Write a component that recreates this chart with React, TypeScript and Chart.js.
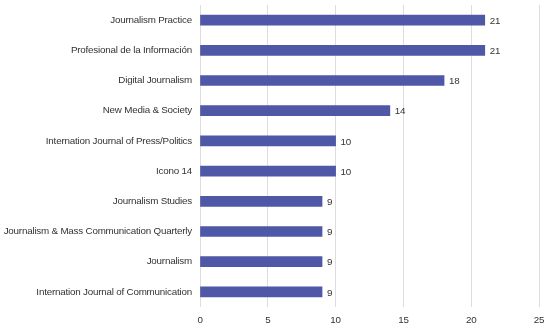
import React, { useEffect, useRef } from "react";
import { Chart, registerables } from "chart.js";

Chart.register(...registerables);

const categories = [
  "Journalism Practice",
  "Profesional de la Información",
  "Digital Journalism",
  "New Media & Society",
  "Internation Journal of Press/Politics",
  "Icono 14",
  "Journalism Studies",
  "Journalism & Mass Communication Quarterly",
  "Journalism",
  "Internation Journal of Communication",
];
const counts = [21, 21, 18, 14, 10, 10, 9, 9, 9, 9];
const xTicks = [0, 5, 10, 15, 20, 25];

const FONT = "'Liberation Sans', Arial, sans-serif";
const SIZE = 9.8;
const TEXT = "#333333";
const SPACING = "-0.2px";

const tightText = {
  id: "tightText",
  beforeLayout(chart: any) {
    chart.ctx.letterSpacing = SPACING;
  },
  beforeDraw(chart: any) {
    chart.ctx.letterSpacing = SPACING;
  },
};

const valueLabels = {
  id: "valueLabels",
  afterDatasetsDraw(chart: any) {
    const ctx = chart.ctx;
    const meta = chart.getDatasetMeta(0);
    ctx.save();
    ctx.letterSpacing = SPACING;
    ctx.font = `${SIZE}px ${FONT}`;
    ctx.fillStyle = TEXT;
    ctx.textAlign = "left";
    ctx.textBaseline = "middle";
    meta.data.forEach((bar: any, i: number) => {
      ctx.fillText(String(counts[i]), bar.x + 5, bar.y + 1);
    });
    ctx.restore();
  },
};

export default function App() {
  const ref = useRef<HTMLCanvasElement>(null);
  useEffect(() => {
    document.body.style.margin = "0";
    const chart = new Chart(ref.current!, {
      type: "bar",
      data: {
        labels: categories,
        datasets: [
          {
            data: counts,
            backgroundColor: "#4F57A7",
            borderWidth: 0,
            barThickness: 10,
          },
        ],
      },
      options: {
        indexAxis: "y",
        animation: false,
        responsive: false,
        layout: { padding: { top: 5, right: 11, left: 0, bottom: 0 } },
        plugins: { legend: { display: false }, tooltip: { enabled: false } },
        scales: {
          x: {
            min: 0,
            max: 25,
            afterBuildTicks: (scale: any) => {
              scale.ticks = xTicks.map((v) => ({ value: v }));
            },
            afterFit: (scale: any) => {
              scale.height = 20;
              scale.paddingLeft = 0;
              scale.paddingRight = 0;
            },
            grid: { color: "#dddddd", drawTicks: false, lineWidth: 1 },
            border: { display: false },
            ticks: { color: TEXT, font: { family: FONT, size: SIZE }, padding: 7 },
          },
          y: {
            afterFit: (scale: any) => {
              scale.width = 200;
              scale.paddingTop = 0;
              scale.paddingBottom = 0;
            },
            grid: { display: false, drawTicks: false },
            border: { display: false },
            ticks: { color: TEXT, font: { family: FONT, size: SIZE }, padding: 8 },
          },
        },
      },
      plugins: [tightText, valueLabels],
    });
    return () => chart.destroy();
  }, []);
  return (
    <div style={{ width: 550, height: 327 }}>
      <canvas ref={ref} width={550} height={327} />
    </div>
  );
}
